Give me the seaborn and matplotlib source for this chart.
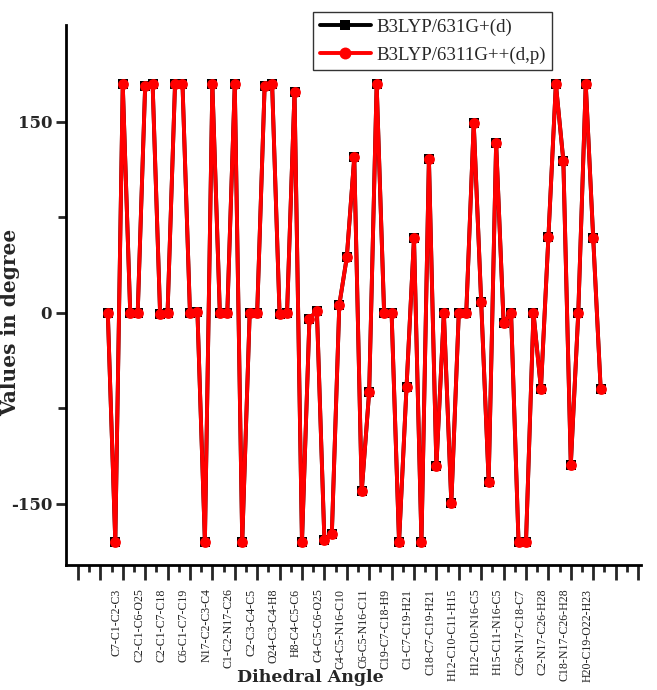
import numpy as np
import pandas as pd
import matplotlib
matplotlib.use("Agg")
import matplotlib.pyplot as plt
import seaborn as sns
from matplotlib.ticker import FixedLocator

# ---- data -------------------------------------------------------------
point_index = list(range(67))

b3lyp_6311 = [0, -179.9, 179.5, 0, -0.5, 178.2, 179.3, -0.6, 0.2, 179.6,
              179.5, 0, 0.3, -179.9, 179.6, 0.2, 0, 179.6, -179.9, 0.2,
              0, 178.3, 179.6, -0.8, -0.4, 173.4, -180, -4.7, 1.6, -178.2,
              -173.5, 6.3, 43.5, 122.0, -140.2, -61.8, 179.7, 0, 0, -180,
              -58.4, 58.7, -180, 121.0, -120.4, 0, -149.5, 0, 0, 149.0,
              8.4, -132.5, 133.3, -8.1, 0, -180, -180, 0, -59.7, 59.5,
              179.7, 119.6, -119.4, 0, 179.7, 58.7, -59.7]
b3lyp_631 = list(b3lyp_6311)

tick_labels = ["C7-C1-C2-C3", "C2-C1-C6-O25", "C2-C1-C7-C18", "C6-C1-C7-C19",
               "N17-C2-C3-C4", "C1-C2-N17-C26", "C2-C3-C4-C5", "O24-C3-C4-H8",
               "H8-C4-C5-C6", "C4-C5-C6-O25", "C4-C5-N16-C10", "C6-C5-N16-C11",
               "C19-C7-C18-H9", "C1-C7-C19-H21", "C18-C7-C19-H21", "H12-C10-C11-H15",
               "H12-C10-N16-C5", "H15-C11-N16-C5", "C26-N17-C18-C7", "C2-N17-C26-H28",
               "C18-N17-C26-H28", "H20-C19-O22-H23"]
label_positions = [2 + 3 * k for k in range(len(tick_labels))]

series_names = ["B3LYP/631G+(d)", "B3LYP/6311G++(d,p)"]

df = pd.DataFrame({"x": point_index, "a": b3lyp_631, "b": b3lyp_6311})

# ---- figure -----------------------------------------------------------
sns.set_style("white")
plt.rcParams["font.family"] = ["DejaVu Serif", "DejaVu Sans"]
plt.rcParams["axes.unicode_minus"] = False

fig = plt.figure(figsize=(6.57, 6.90), dpi=100)
ax = fig.add_axes([66 / 657, 1 - 565 / 690, 575 / 657, 540 / 690])

sns.lineplot(data=df, x="x", y="a", ax=ax, color="black", linewidth=2.8,
             marker="s", markersize=6.6, markeredgewidth=0,
             label=series_names[0])
sns.lineplot(data=df, x="x", y="b", ax=ax, color="#ff0000", linewidth=2.8,
             marker="o", markersize=7.8, markeredgewidth=0,
             label=series_names[1])

ax.set_xlim(-5.6, 71.4)
ax.set_ylim(-198, 226)

for s in ["top", "right"]:
    ax.spines[s].set_visible(False)
for s in ["left", "bottom"]:
    ax.spines[s].set_linewidth(2.0)
    ax.spines[s].set_color("black")

# y ticks
ax.yaxis.set_major_locator(FixedLocator([-150, 0, 150]))
ax.yaxis.set_minor_locator(FixedLocator([-75, 75]))
ax.tick_params(axis="y", which="major", direction="out", length=7, width=2,
               labelsize=12, pad=3, left=True)
ax.tick_params(axis="y", which="minor", direction="out", length=6, width=2,
               left=True)
for t in ax.get_yticklabels():
    t.set_fontweight("bold")

# x ticks
major_x = list(range(-4, 72, 3))
minor_x = [m + 1.5 for m in major_x[:-1]]
ax.xaxis.set_major_locator(FixedLocator(major_x))
ax.xaxis.set_minor_locator(FixedLocator(minor_x))
label_map = dict(zip(label_positions, tick_labels))
ax.set_xticklabels([label_map.get(m, "") for m in major_x])
ax.tick_params(axis="x", which="major", direction="out", length=11, width=2,
               labelsize=8.6, pad=6, bottom=True)
ax.tick_params(axis="x", which="minor", direction="out", length=5, width=2,
               bottom=True)
for t in ax.get_xticklabels():
    t.set_rotation(90)
    t.set_ha("right")
    t.set_va("top")
    t.set_color("#222222")
    t.set_family(["Liberation Serif", "DejaVu Serif"])

ax.set_ylabel("Values in degree", fontsize=14.5, fontweight="bold")
ax.yaxis.set_label_coords(-46 / 575, (565 - 322) / 540)
ax.set_xlabel("Dihedral Angle", fontsize=12.5, fontweight="bold")
ax.xaxis.set_label_coords((310 - 66) / 575, (565 - 677) / 540)
ax.xaxis.label.set_va("center")

leg = ax.legend(loc="upper left", bbox_to_anchor=(313 / 657, 1 - 12 / 690),
                bbox_transform=fig.transFigure, frameon=True,
                prop={"family": ["Liberation Serif", "DejaVu Serif"], "size": 13.6},
                handlelength=2.7, handletextpad=0.3, borderpad=0.35,
                labelspacing=0.55, fancybox=False, markerscale=1.1,
                borderaxespad=0)
leg.get_frame().set_edgecolor("black")
leg.get_frame().set_linewidth(1.0)

fig.savefig("out.png", dpi=100)
